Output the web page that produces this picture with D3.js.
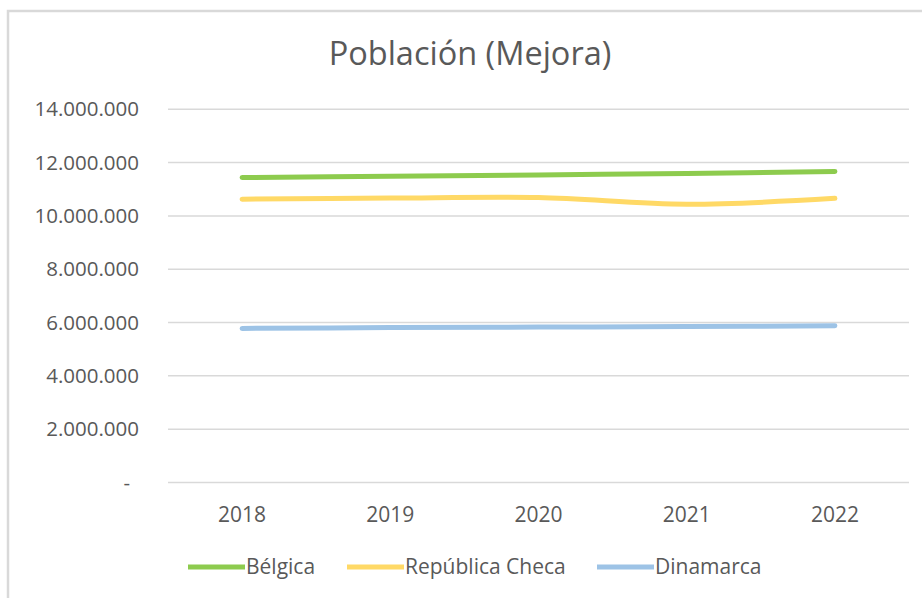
<!DOCTYPE html>
<html>
<head>
<meta charset="utf-8">
<script src="https://cdn.jsdelivr.net/npm/d3@7"></script>
<style>
  body { margin: 0; background: #fff; }
  text { font-family: "Open Sans", sans-serif; fill: #595959; }
</style>
</head>
<body>
<div id="chart"></div>
<script>
var years = ["2018", "2019", "2020", "2021", "2022"];
var belgica = [11440000, 11490000, 11540000, 11590000, 11670000];
var checa = [10630000, 10670000, 10690000, 10440000, 10660000];
var dinamarca = [5780000, 5810000, 5830000, 5850000, 5880000];
var yTicks = [0, 2000000, 4000000, 6000000, 8000000, 10000000, 12000000, 14000000];
var seriesNames = ["Bélgica", "República Checa", "Dinamarca"];
var seriesColors = ["#8DCB4E", "#FFD966", "#9DC3E6"];

var W = 922, H = 598;
var svg = d3.select("#chart").append("svg")
    .attr("width", W)
    .attr("height", H);

// chart border (only top & left visible)
svg.append("path")
  .attr("d", "M8,598 V11 H922")
  .attr("fill", "none")
  .attr("stroke", "#d9d9d9")
  .attr("stroke-width", 2.5);

var x = d3.scalePoint().domain(years).range([168, 909]).padding(0.5);
var y = d3.scaleLinear().domain([0, 14000000]).range([482.5, 109.3]);

var fmt = function(d) {
  if (d === 0) return "-";
  return d3.format(",")(d).replace(/,/g, ".");
};

// gridlines
svg.append("g").selectAll("line")
  .data(yTicks)
  .enter().append("line")
  .attr("x1", 168).attr("x2", 909)
  .attr("y1", function(d) { return y(d); })
  .attr("y2", function(d) { return y(d); })
  .attr("stroke", "#d9d9d9")
  .attr("stroke-width", 1.5);

// y labels
svg.append("g").selectAll("text")
  .data(yTicks)
  .enter().append("text")
  .attr("x", function(d) { return d === 0 ? 130 : 139; })
  .attr("y", function(d) { return y(d); })
  .attr("dy", "0.35em")
  .attr("text-anchor", "end")
  .style("font-size", "20.5px")
  .text(fmt);

// x labels
svg.append("g").selectAll("text")
  .data(years)
  .enter().append("text")
  .attr("x", function(d) { return x(d); })
  .attr("y", 522)
  .attr("text-anchor", "middle")
  .style("font-size", "21px")
  .text(function(d) { return d; });

// title
svg.append("text")
  .attr("x", 470)
  .attr("y", 65)
  .attr("text-anchor", "middle")
  .style("font-size", "32.5px")
  .text("Población (Mejora)");

var line = d3.line()
  .x(function(d, i) { return x(years[i]); })
  .y(function(d) { return y(d); })
  .curve(d3.curveCatmullRom.alpha(0.5));

var allSeries = [belgica, checa, dinamarca];
svg.append("g").selectAll("path")
  .data(allSeries)
  .enter().append("path")
  .attr("d", line)
  .attr("fill", "none")
  .attr("stroke", function(d, i) { return seriesColors[i]; })
  .attr("stroke-width", 5)
  .attr("stroke-linecap", "round");

// legend
var legX = [188, 347, 597];
var leg = svg.append("g").selectAll("g")
  .data(seriesNames)
  .enter().append("g")
  .attr("transform", function(d, i) { return "translate(" + legX[i] + ",567)"; });
leg.append("line")
  .attr("x1", 0).attr("x2", 57)
  .attr("stroke", function(d, i) { return seriesColors[i]; })
  .attr("stroke-width", 5);
leg.append("text")
  .attr("x", 58)
  .attr("y", 7)
  .style("font-size", "21px")
  .text(function(d) { return d; });
</script>
</body>
</html>
